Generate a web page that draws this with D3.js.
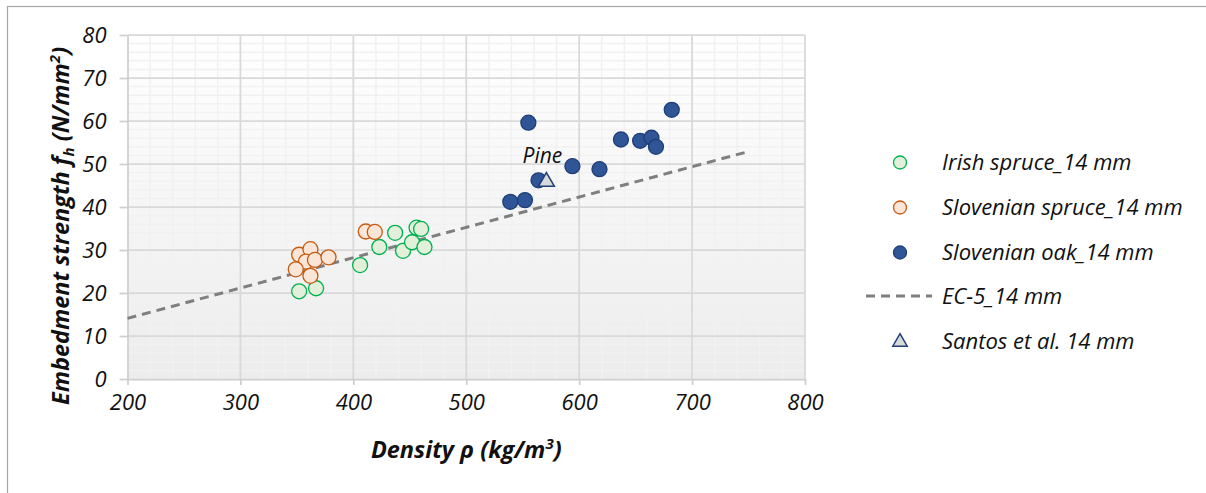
<!DOCTYPE html>
<html>
<head>
<meta charset="utf-8">
<script src="https://cdn.jsdelivr.net/npm/d3@7"></script>
<style>
  body { margin: 0; background: #fff; }
  svg { display: block; font-family: "Open Sans", "DejaVu Sans", sans-serif; }
</style>
</head>
<body>
<svg id="chart" width="1206" height="493"></svg>
<script>
// Embedment strength vs. density, 14 mm dowels
const irishDensity   = [352, 367, 406, 423, 437, 444, 452, 456, 460, 463];
const irishStrength  = [20.4, 21.1, 26.5, 30.7, 34.0, 29.8, 31.8, 35.2, 34.9, 30.7];

const sloSpruceDensity  = [352, 362, 358, 366, 349, 362, 378, 411, 419];
const sloSpruceStrength = [28.9, 30.2, 27.3, 27.7, 25.5, 24.0, 28.3, 34.3, 34.2];

const oakDensity  = [539, 552, 555, 564, 594, 618, 637, 654, 664, 668, 682];
const oakStrength = [41.2, 41.6, 59.6, 46.2, 49.5, 48.8, 55.7, 55.4, 56.1, 54.0, 62.6];

const ec5Density  = [200, 750];
const ec5Strength = [14.1, 52.9];

const santosDensity  = [571];
const santosStrength = [46.1];
const santosLabels   = ["Pine"];

const xTicks = [200, 300, 400, 500, 600, 700, 800];
const yTicks = [0, 10, 20, 30, 40, 50, 60, 70, 80];

const legendNames = ["Irish spruce_14 mm", "Slovenian spruce_14 mm", "Slovenian oak_14 mm", "EC-5_14 mm", "Santos et al. 14 mm"];

const svg = d3.select("#chart");

// outer chart frame
svg.append("rect").attr("x", 7.5).attr("y", 6.5).attr("width", 1300).attr("height", 600)
  .attr("fill", "#fff").attr("stroke", "#a6a6a6").attr("stroke-width", 1.2);

const x = d3.scaleLinear().domain([200, 800]).range([127.5, 805]);
const y = d3.scaleLinear().domain([0, 80]).range([379, 35]);

// plot background gradient
const defs = svg.append("defs");
const grad = defs.append("linearGradient").attr("id", "plotBg")
  .attr("x1", 0).attr("y1", 0).attr("x2", 0).attr("y2", 1);
grad.append("stop").attr("offset", "0%").attr("stop-color", "#ffffff");
grad.append("stop").attr("offset", "100%").attr("stop-color", "#ececec");

svg.append("rect")
  .attr("x", x(200)).attr("y", y(80))
  .attr("width", x(800) - x(200)).attr("height", y(0) - y(80))
  .attr("fill", "url(#plotBg)");

// minor grid
const gMinor = svg.append("g");
gMinor.selectAll("line.mx").data(d3.range(200, 801, 20).filter(v => v % 100 !== 0))
  .join("line")
  .attr("x1", d => x(d)).attr("x2", d => x(d))
  .attr("y1", y(0)).attr("y2", y(80))
  .attr("stroke", "#f1f1f1").attr("stroke-width", 1.5);
gMinor.selectAll("line.my").data(d3.range(0, 81, 2).filter(v => v % 10 !== 0))
  .join("line")
  .attr("x1", x(200)).attr("x2", x(800))
  .attr("y1", d => y(d)).attr("y2", d => y(d))
  .attr("stroke", "#f1f1f1").attr("stroke-width", 1.5);

// major grid
const gMajor = svg.append("g");
gMajor.selectAll("line.vx").data(xTicks.slice(1))
  .join("line")
  .attr("x1", d => x(d)).attr("x2", d => x(d))
  .attr("y1", y(0)).attr("y2", y(80))
  .attr("stroke", "#d9d9d9").attr("stroke-width", 1.75);
gMajor.selectAll("line.hy").data(yTicks.slice(1))
  .join("line")
  .attr("x1", x(200)).attr("x2", x(800))
  .attr("y1", d => y(d)).attr("y2", d => y(d))
  .attr("stroke", "#d9d9d9").attr("stroke-width", 1.75);

// axes
const xAxis = d3.axisBottom(x).tickValues(xTicks).tickSizeInner(6).tickSizeOuter(0).tickPadding(9);
const yAxis = d3.axisLeft(y).tickValues(yTicks).tickSizeInner(8).tickSizeOuter(0).tickPadding(13);

const gx = svg.append("g").attr("transform", `translate(0,${y(0)})`).call(xAxis);
const gy = svg.append("g").attr("transform", `translate(${x(200)},0)`).call(yAxis);
[gx, gy].forEach(g => {
  g.select(".domain").attr("stroke", "#cfcfcf").attr("stroke-width", 1.75);
  g.selectAll(".tick line").attr("stroke", "#cfcfcf").attr("stroke-width", 1.75);
  g.selectAll(".tick text")
    .attr("fill", "#111").attr("font-family", "'Open Sans', sans-serif")
    .attr("font-size", 22).attr("font-style", "italic");
});
gy.selectAll(".tick text").attr("dy", "0.35em");

// EC-5 line (behind markers)
const ec5 = ec5Density.map((d, i) => [d, ec5Strength[i]]);
svg.append("path")
  .attr("d", d3.line().x(d => x(d[0])).y(d => y(d[1]))(ec5))
  .attr("fill", "none").attr("stroke", "#7f7f7f").attr("stroke-width", 3)
  .attr("stroke-dasharray", "9,6");

function drawCircles(dens, str, fill, stroke) {
  svg.append("g").selectAll("circle")
    .data(dens.map((d, i) => [d, str[i]]))
    .join("circle")
    .attr("cx", d => x(d[0])).attr("cy", d => y(d[1]))
    .attr("r", 7.5)
    .attr("fill", fill).attr("stroke", stroke).attr("stroke-width", 1.3);
}

const cIrish = { fill: "#e2f0d9", stroke: "#00b050" };
const cSlo   = { fill: "#fbe5d6", stroke: "#c55a11" };
const cOak   = { fill: "#2f5597", stroke: "#1f3e78" };
const cSantos = { fill: "#d9d9d9", stroke: "#203f7a" };

drawCircles(irishDensity, irishStrength, cIrish.fill, cIrish.stroke);
drawCircles(sloSpruceDensity, sloSpruceStrength, cSlo.fill, cSlo.stroke);
drawCircles(oakDensity, oakStrength, cOak.fill, cOak.stroke);

// Santos et al. point with label
const tri = d3.symbol().type(d3.symbolTriangle).size(110);
const santos = svg.append("g");
santos.selectAll("path")
  .data(santosDensity.map((d, i) => [d, santosStrength[i]]))
  .join("path")
  .attr("transform", d => `translate(${x(d[0])},${y(d[1]) + 1})`)
  .attr("d", tri)
  .attr("fill", cSantos.fill).attr("stroke", cSantos.stroke).attr("stroke-width", 1.5);
santos.selectAll("text")
  .data(santosLabels.map((t, i) => ({ t, d: santosDensity[i], s: santosStrength[i] })))
  .join("text")
  .attr("x", d => x(d.d) - 4).attr("y", d => y(d.s) - 18)
  .attr("text-anchor", "middle")
  .attr("font-size", 21).attr("font-style", "italic").attr("fill", "#111")
  .text(d => d.t);

// axis titles
svg.append("text")
  .attr("x", (x(200) + x(800)) / 2).attr("y", 458)
  .attr("text-anchor", "middle")
  .attr("font-size", 23.5).attr("font-weight", "bold").attr("font-style", "italic").attr("fill", "#111")
  .call(t => {
    t.append("tspan").text("Density ρ (kg/m");
    t.append("tspan").attr("dy", -9).attr("font-size", 15).text("3");
    t.append("tspan").attr("dy", 9).text(")");
  });

svg.append("text")
  .attr("transform", "translate(69,226) rotate(-90)")
  .attr("text-anchor", "middle")
  .attr("font-size", 23.5).attr("font-weight", "bold").attr("font-style", "italic").attr("fill", "#111")
  .call(t => {
    t.append("tspan").text("Embedment strength  f");
    t.append("tspan").attr("dy", 5).attr("font-size", 15).text("h");
    t.append("tspan").attr("dy", -5).text(" (N/mm");
    t.append("tspan").attr("dy", -9).attr("font-size", 15).text("2");
    t.append("tspan").attr("dy", 9).text(")");
  });

// legend
const legendY = [162.5, 207.5, 252.5, 296, 341];
const lg = svg.append("g");
const markerX = 900, textX = 942;
lg.append("circle").attr("cx", markerX).attr("cy", legendY[0]).attr("r", 6.5)
  .attr("fill", cIrish.fill).attr("stroke", cIrish.stroke).attr("stroke-width", 1.3);
lg.append("circle").attr("cx", markerX).attr("cy", legendY[1]).attr("r", 6.5)
  .attr("fill", cSlo.fill).attr("stroke", cSlo.stroke).attr("stroke-width", 1.3);
lg.append("circle").attr("cx", markerX).attr("cy", legendY[2]).attr("r", 6.5)
  .attr("fill", cOak.fill).attr("stroke", cOak.stroke).attr("stroke-width", 1.3);
lg.append("line").attr("x1", 866).attr("x2", 932).attr("y1", legendY[3]).attr("y2", legendY[3])
  .attr("stroke", "#7f7f7f").attr("stroke-width", 3).attr("stroke-dasharray", "9,6");
lg.append("path").attr("transform", `translate(${markerX},${legendY[4] + 1})`)
  .attr("d", d3.symbol().type(d3.symbolTriangle).size(90))
  .attr("fill", cSantos.fill).attr("stroke", cSantos.stroke).attr("stroke-width", 1.5);
lg.selectAll("text").data(legendNames).join("text")
  .attr("x", textX).attr("y", (d, i) => legendY[i]).attr("dy", "0.35em")
  .attr("font-size", 22).attr("font-style", "italic").attr("fill", "#111")
  .text(d => d);
</script>
</body>
</html>
